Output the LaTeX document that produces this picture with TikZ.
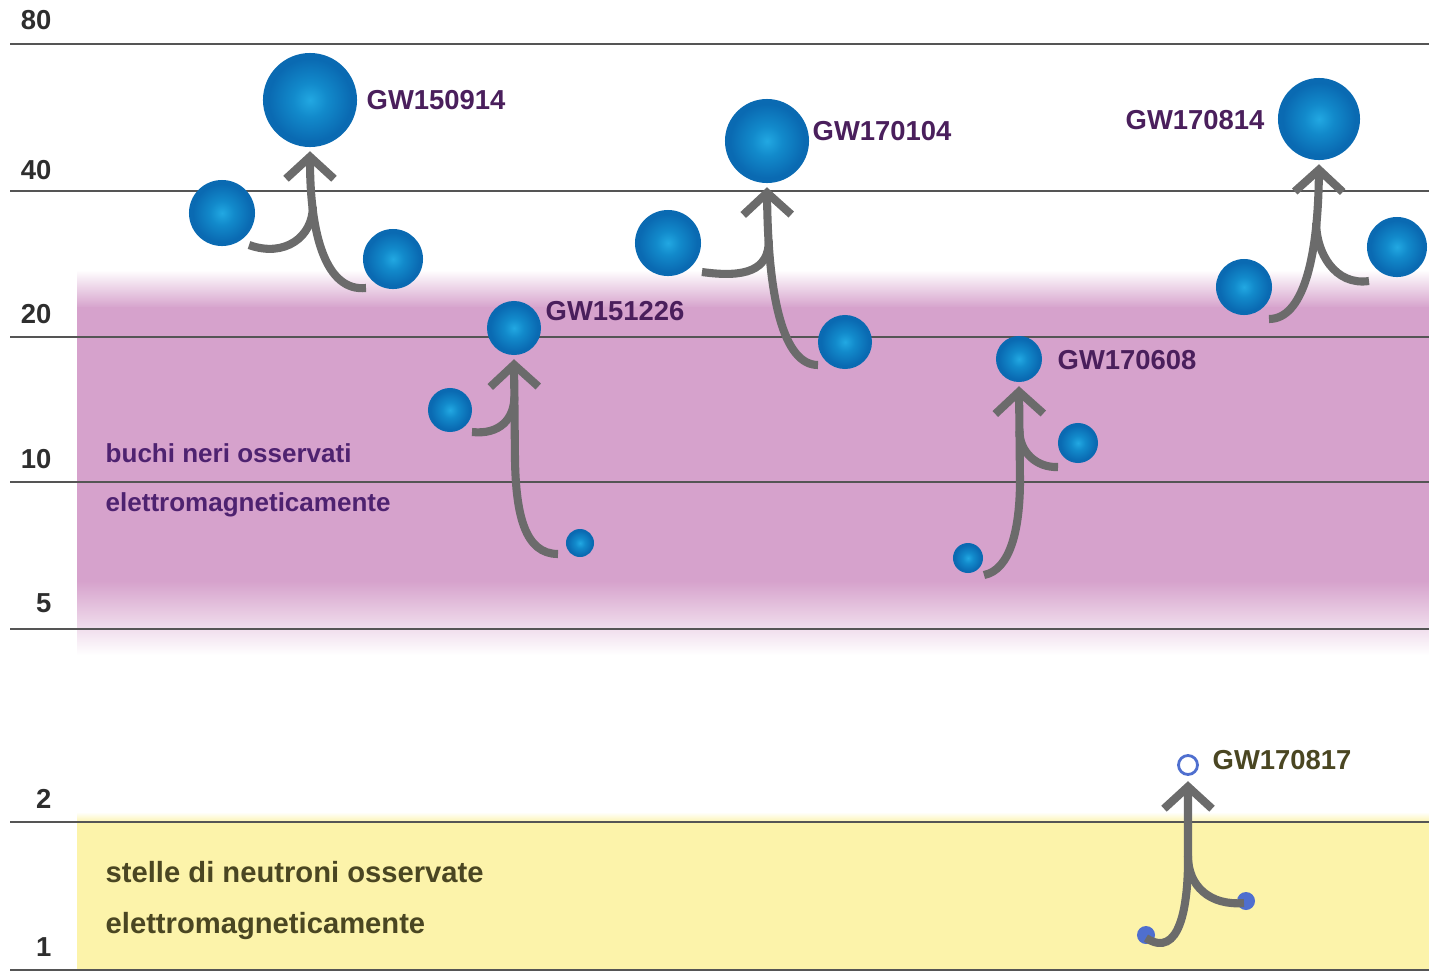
\documentclass[tikz,border=0pt]{standalone}
\usepackage{fontspec}
\setmainfont{Liberation Sans}
\usetikzlibrary{arrows.meta}
\definecolor{purp}{HTML}{D6A2CC}
\definecolor{yell}{HTML}{FCF3AA}
\definecolor{gridc}{HTML}{555555}
\definecolor{arrc}{HTML}{6B6B6B}
\definecolor{bhin}{HTML}{22A8E2}
\definecolor{bhmid}{HTML}{128ACB}
\definecolor{bhout}{HTML}{0A6AB2}
\definecolor{ptext}{HTML}{4E2270}
\definecolor{gwtext}{HTML}{4A1F5C}
\definecolor{otext}{HTML}{4A4622}
\definecolor{numc}{HTML}{2E2E2E}
\definecolor{nsc}{HTML}{4F6FCF}
\pgfdeclareradialshading{bhshade}{\pgfpoint{0bp}{0bp}}{color(0bp)=(bhin); color(9bp)=(bhmid); color(22bp)=(bhout); color(50bp)=(bhout)}
\tikzset{
  grid/.style={draw=gridc, line width=0.5pt},
  num/.style={anchor=east, text=numc, font=\fontsize{7.8}{9}\selectfont\bfseries, inner sep=0pt},
  gw/.style={anchor=west, text=gwtext, font=\fontsize{7.8}{9}\selectfont\bfseries, inner sep=0pt},
  gwo/.style={gw, text=otext},
  ptxt/.style={anchor=west, text=ptext, font=\fontsize{7.4}{9}\selectfont\bfseries, inner sep=0pt},
  otxt/.style={anchor=west, text=otext, font=\fontsize{8.3}{10}\selectfont\bfseries, inner sep=0pt},
  bh/.style={circle, inner sep=0pt, shading=bhshade},
  ns/.style={circle, inner sep=0pt, fill=nsc, minimum size=0.18cm},
  arr/.style={draw=arrc, line width=2.3pt, line cap=butt, -{Straight Barb[length=0.22cm, width=0.48cm]}},
  br/.style={draw=arrc, line width=2.3pt, line cap=butt}
}
\begin{document}
\begin{tikzpicture}[x=0.01cm, y=-0.01cm]
\useasboundingbox (0,0) rectangle (1429,975);
% bands
\shade[top color=white, bottom color=purp] (77,270) rectangle (1429,308);
\fill[purp] (77,307) rectangle (1429,582);
\shade[top color=purp, bottom color=white] (77,581) rectangle (1429,655);
\shade[top color=white, bottom color=yell] (77,812) rectangle (1429,823);
\fill[yell] (77,822) rectangle (1429,970);
% grid lines
\foreach \yy in {44,191,337,482,629,822,970} \draw[grid] (10,\yy) -- (1429,\yy);
% axis numbers
\node[num] (n80) at (52,20) {80};
\node[num] (n40) at (52,170) {40};
\node[num] (n20) at (52,314) {20};
\node[num] (n10) at (52,459) {10};
\node[num] (n5) at (52,603) {5};
\node[num] (n2) at (52,799) {2};
\node[num] (n1) at (52,947) {1};
% band texts
\node[ptxt] (t1) at (105,453) {buchi neri osservati};
\node[ptxt] (t2) at (105,505) {elettromagneticamente};
\node[otxt] (t3) at (105,872) {stelle di neutroni osservate};
\node[otxt] (t4) at (105,926) {elettromagneticamente};

% ---------- GW150914
\node[bh, minimum size=0.94cm] (f1) at (310,100) {};
\node[bh, minimum size=0.66cm] (a1) at (222,213) {};
\node[bh, minimum size=0.60cm] (c1) at (393,259) {};
\node[gw] (l1) at (366,100) {GW150914};
\coordinate (s1) at (366,288);
\coordinate (b1) at (249,245);
\draw[arr] (s1) .. controls (326,292) and (310,235) .. coordinate[pos=0.76] (j1) ([yshift=-1pt]f1.south);
\draw[br] (b1) .. controls (285,258) and ([yshift=-0.3cm]j1) .. (j1);

% ---------- GW151226
\node[bh, minimum size=0.54cm] (f2) at (514,328) {};
\node[bh, minimum size=0.44cm] (a2) at (450,410) {};
\node[bh, minimum size=0.28cm] (c2) at (580,543) {};
\node[gw] (l2) at (545,311) {GW151226};
\coordinate (s2) at (558,554);
\coordinate (b2) at (472,432);
\draw[arr] (s2) .. controls (525,554) and (516,515) .. (515,460) -- coordinate[pos=0.63] (j2) ([yshift=-1pt]f2.south);
\draw[br] (b2) .. controls (500,435) and ([yshift=-0.22cm]j2) .. (j2);

% ---------- GW170104
\node[bh, minimum size=0.84cm] (f3) at (767,141) {};
\node[bh, minimum size=0.66cm] (a3) at (668,243) {};
\node[bh, minimum size=0.54cm] (c3) at (845,342) {};
\node[gw] (l3) at (812,131) {GW170104};
\coordinate (s3) at (818,365);
\coordinate (b3) at (702,272);
\draw[arr] (s3) .. controls (784,365) and (768,300) .. coordinate[pos=0.83] (j3) ([yshift=-1pt]f3.south);
\draw[br] (b3) .. controls (745,278) and ([yshift=-0.3cm]j3) .. (j3);

% ---------- GW170814
\node[bh, minimum size=0.82cm] (f4) at (1319,119) {};
\node[bh, minimum size=0.56cm] (a4) at (1244,287) {};
\node[bh, minimum size=0.60cm] (c4) at (1397,247) {};
\node[gw] (l4) at (1125,120) {GW170814};
\coordinate (s4) at (1269,319);
\coordinate (b4) at (1369,281);
\draw[arr] (s4) .. controls (1302,319) and (1318,262) .. coordinate[pos=0.78] (j4) ([yshift=-1pt]f4.south);
\draw[br] (b4) .. controls (1335,286) and ([yshift=-0.3cm]j4) .. (j4);

% ---------- GW170608
\node[bh, minimum size=0.46cm] (f5) at (1019,359) {};
\node[bh, minimum size=0.40cm] (a5) at (1078,443) {};
\node[bh, minimum size=0.30cm] (c5) at (968,558) {};
\node[gw] (l5) at (1057,360) {GW170608};
\coordinate (s5) at (984,575);
\coordinate (b5) at (1058,467);
\draw[arr] (s5) .. controls (1010,570) and (1020,530) .. (1020,480) -- coordinate[pos=0.52] (j5) ([yshift=-1pt]f5.south);
\draw[br] (b5) .. controls (1036,468) and ([yshift=-0.2cm]j5) .. (j5);

% ---------- GW170817
\node[circle, inner sep=0pt, minimum size=0.19cm, draw=nsc, line width=0.8pt, fill=white] (f6) at (1188,765) {};
\node[ns] (a6) at (1146,935) {};
\node[ns] (c6) at (1246,901) {};
\node[gwo] (l6) at (1212,760) {GW170817};
\coordinate (s6) at (1146,938);
\coordinate (b6) at (1244,903);
\draw[arr] (s6) .. controls (1180,960) and (1188,905) .. (1188,860) -- coordinate[pos=0.05] (j6) ([yshift=-1.5pt]f6.south);
\draw[br] (b6) .. controls (1210,906) and ([yshift=-0.3cm]j6) .. (j6);
\end{tikzpicture}
\end{document}
